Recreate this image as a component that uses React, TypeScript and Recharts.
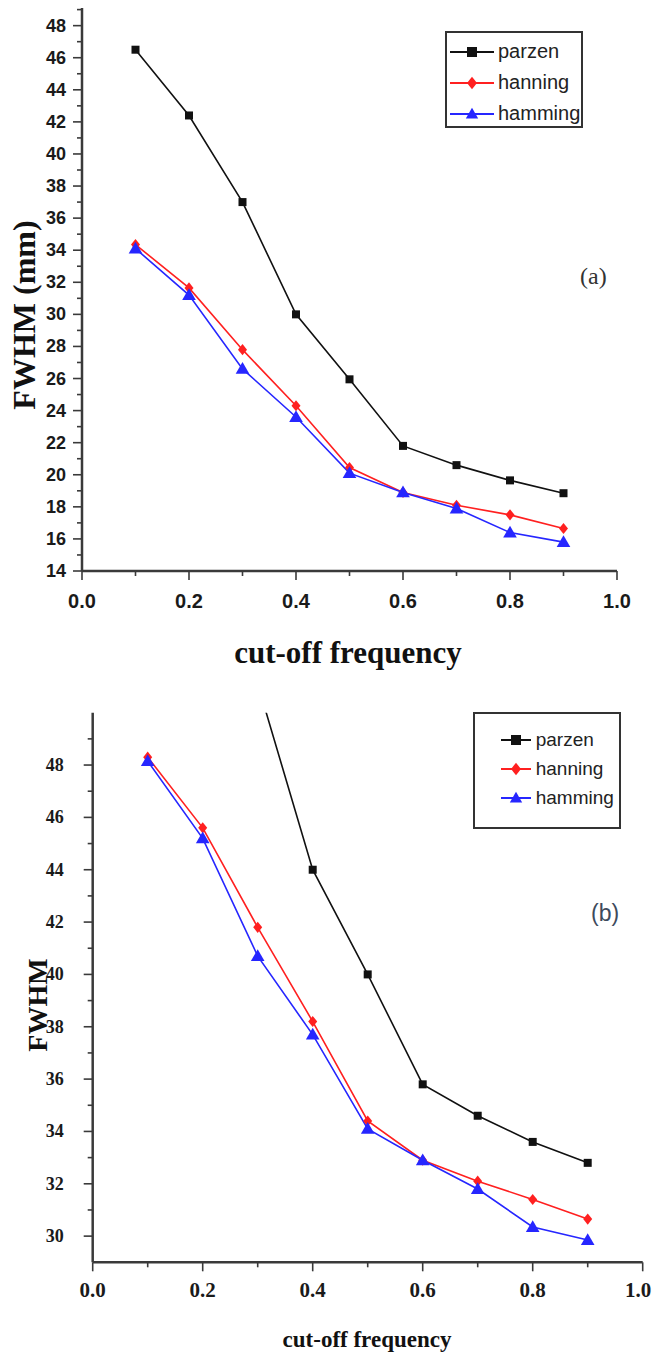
import { Label, Legend, Line, LineChart, XAxis, YAxis } from "recharts";

// cut-off frequency values shared by both panels
const freqs = [0.1, 0.2, 0.3, 0.4, 0.5, 0.6, 0.7, 0.8, 0.9];

// panel (a): FWHM (mm)
const parzenA = [46.5, 42.4, 37.0, 30.0, 25.95, 21.8, 20.6, 19.65, 18.85];
const hanningA = [34.35, 31.65, 27.8, 24.3, 20.45, 18.9, 18.1, 17.5, 16.65];
const hammingA = [34.1, 31.2, 26.6, 23.6, 20.1, 18.9, 17.9, 16.4, 15.8];

// panel (b): FWHM, parzen runs off the top for the low frequencies
const parzenB = [null, null, 51.1, 44.0, 40.0, 35.8, 34.6, 33.6, 32.8];
const hanningB = [48.3, 45.6, 41.8, 38.2, 34.4, 32.9, 32.1, 31.4, 30.65];
const hammingB = [48.15, 45.2, 40.7, 37.7, 34.1, 32.9, 31.8, 30.35, 29.85];

const xTicks = [0, 0.1, 0.2, 0.3, 0.4, 0.5, 0.6, 0.7, 0.8, 0.9, 1.0];
const xMajor = [0, 0.2, 0.4, 0.6, 0.8, 1.0];
const yTicksA = [14, 15, 16, 17, 18, 19, 20, 21, 22, 23, 24, 25, 26, 27, 28, 29, 30, 31, 32, 33, 34, 35, 36, 37, 38, 39, 40, 41, 42, 43, 44, 45, 46, 47, 48, 49];
const yMajorA = [14, 16, 18, 20, 22, 24, 26, 28, 30, 32, 34, 36, 38, 40, 42, 44, 46, 48];
const yTicksB = [30, 31, 32, 33, 34, 35, 36, 37, 38, 39, 40, 41, 42, 43, 44, 45, 46, 47, 48, 49];
const yMajorB = [30, 32, 34, 36, 38, 40, 42, 44, 46, 48];

const series = [
  { key: "parzen", name: "parzen", color: "#111111", shape: "square" },
  { key: "hanning", name: "hanning", color: "#ff2020", shape: "diamond" },
  { key: "hamming", name: "hamming", color: "#2626ff", shape: "triangle" },
];

const dataA = freqs.map((f, i) => ({ f, parzen: parzenA[i], hanning: hanningA[i], hamming: hammingA[i] }));
const dataB = freqs.map((f, i) => ({ f, parzen: parzenB[i], hanning: hanningB[i], hamming: hammingB[i] }));

const AXIS = "#3a3a3a";
const W = 654;

function Marker({ cx, cy, shape, color, s }: any) {
  if (shape === "square") {
    return <rect x={cx - s / 2} y={cy - s / 2} width={s} height={s} fill={color} />;
  }
  if (shape === "diamond") {
    return (
      <path
        d={`M${cx},${cy - s * 0.62}L${cx + s * 0.5},${cy}L${cx},${cy + s * 0.62}L${cx - s * 0.5},${cy}Z`}
        fill={color}
      />
    );
  }
  return (
    <path
      d={`M${cx},${cy - s * 0.62}L${cx + s * 0.62},${cy + s * 0.45}L${cx - s * 0.62},${cy + s * 0.45}Z`}
      fill={color}
    />
  );
}

const isIn = (list: number[], v: number) => list.some((m) => Math.abs(m - v) < 1e-6);

function yTick(majors: number[], font: any, gap: number) {
  return (props: any) => {
    const { x, y, payload } = props;
    const major = isIn(majors, payload.value);
    return (
      <g>
        <line x1={x - (major ? 9 : 5)} x2={x} y1={y} y2={y} stroke={AXIS} strokeWidth={1.6} />
        {major && (
          <text x={x - gap} y={y} textAnchor="end" dominantBaseline="central" fill="#1a1a1a" {...font}>
            {payload.value}
          </text>
        )}
      </g>
    );
  };
}

function xTick(majors: number[], font: any, gap: number) {
  return (props: any) => {
    const { x, y, payload } = props;
    const major = isIn(majors, payload.value);
    // keep the last label inside the picture
    const half = font.fontSize * 0.66;
    const tx = Math.min(x, W - 2 - half);
    return (
      <g>
        <line x1={x} x2={x} y1={y} y2={y + (major ? 9 : 5)} stroke={AXIS} strokeWidth={1.6} />
        {major && (
          <text x={tx} y={y + gap} textAnchor="middle" dominantBaseline="central" fill="#1a1a1a" {...font}>
            {payload.value.toFixed(1)}
          </text>
        )}
      </g>
    );
  };
}

function legendBox(cfg: { padTop: number; rowH: number; padLeft: number; symW: number; gap: number; fontSize: number }) {
  return () => (
    <div style={{ paddingTop: cfg.padTop }}>
      {series.map((s) => (
        <div key={s.key} style={{ display: "flex", alignItems: "center", height: cfg.rowH }}>
          <svg width={cfg.symW} height={16} style={{ marginLeft: cfg.padLeft, marginRight: cfg.gap }}>
            <line x1={0} x2={cfg.symW} y1={8} y2={8} stroke={s.color} strokeWidth={2} />
            <Marker cx={cfg.symW / 2} cy={8} shape={s.shape} color={s.color} s={10} />
          </svg>
          <span style={{ fontFamily: "'Liberation Sans', Arial, sans-serif", fontSize: cfg.fontSize, color: "#222" }}>
            {s.name}
          </span>
        </div>
      ))}
    </div>
  );
}

function renderLines(sizes: Record<string, number>) {
  return series.map((s) => (
    <Line
      key={s.key}
      type="linear"
      dataKey={s.key}
      name={s.name}
      stroke={s.color}
      strokeWidth={1.6}
      activeDot={false}
      isAnimationActive={false}
      dot={(p: any) => (
        <g key={`${s.key}-${p.index}`}>
          {p.cx != null && p.cy != null && p.value != null && (
            <Marker cx={p.cx} cy={p.cy} shape={s.shape} color={s.color} s={sizes[s.shape]} />
          )}
        </g>
      )}
    />
  ));
}

const sansBold = { fontFamily: "'Liberation Sans', Arial, sans-serif", fontWeight: "bold" };
const serifBold = { fontFamily: "'Liberation Serif', 'Times New Roman', serif", fontWeight: "bold" };

export default function App() {
  return (
    <div style={{ position: "absolute", left: 0, top: 0, width: W, height: 1354, background: "#fff" }}>
      {/* panel (a) */}
      <div style={{ position: "absolute", left: 0, top: 0, width: W, height: 690 }}>
        <LineChart width={W} height={690} data={dataA} margin={{ top: 8, right: 37, bottom: 79, left: 0 }}>
          <XAxis
            type="number"
            dataKey="f"
            domain={[0, 1]}
            ticks={xTicks}
            interval={0}
            height={40}
            tickSize={0}
            tickMargin={0}
            tickLine={false}
            axisLine={{ stroke: AXIS, strokeWidth: 2.5 }}
            tick={xTick(xMajor, { ...sansBold, fontSize: 20 }, 30)}
          >
            <Label
              content={() => (
                <text x={348} y={663} textAnchor="middle" fill="#111" {...serifBold} fontSize={31}>
                  cut-off frequency
                </text>
              )}
            />
          </XAxis>
          <YAxis
            type="number"
            domain={[14, 49.1]}
            ticks={yTicksA}
            interval={0}
            width={82}
            tickSize={0}
            tickMargin={0}
            tickLine={false}
            axisLine={{ stroke: AXIS, strokeWidth: 2.5 }}
            tick={yTick(yMajorA, { ...sansBold, fontSize: 18 }, 16)}
          >
            <Label
              content={() => (
                <text
                  x={24}
                  y={315}
                  transform="rotate(-90 24 315)"
                  textAnchor="middle"
                  dominantBaseline="central"
                  fill="#111"
                  {...serifBold}
                  fontSize={32}
                >
                  FWHM (mm)
                </text>
              )}
            />
          </YAxis>
          <Legend
            layout="horizontal"
            align="center"
            verticalAlign="middle"
            content={legendBox({ padTop: 3, rowH: 31, padLeft: 3, symW: 44, gap: 4, fontSize: 20 })}
            wrapperStyle={{
              left: 445,
              top: 31,
              width: 138,
              height: 97,
              border: "2px solid #333",
              boxSizing: "border-box",
              background: "#fff",
            }}
          />
          {renderLines({ square: 8, diamond: 9, triangle: 11 })}
        </LineChart>
        <div
          style={{
            position: "absolute",
            left: 580,
            top: 264,
            fontFamily: "'Liberation Serif', 'Times New Roman', serif",
            fontSize: 24,
            lineHeight: "24px",
            color: "#333",
          }}
        >
          (a)
        </div>
      </div>

      {/* panel (b) */}
      <div style={{ position: "absolute", left: 0, top: 690, width: W, height: 664 }}>
        <LineChart width={W} height={664} data={dataB} margin={{ top: 22.7, right: 11.3, bottom: 51.7, left: 0 }}>
          <XAxis
            type="number"
            dataKey="f"
            domain={[0, 1]}
            ticks={xTicks}
            interval={0}
            height={40}
            tickSize={0}
            tickMargin={0}
            tickLine={false}
            axisLine={{ stroke: AXIS, strokeWidth: 2.5 }}
            tick={xTick(xMajor, { ...serifBold, fontSize: 21 }, 28)}
          >
            <Label
              content={() => (
                <text x={367} y={657} textAnchor="middle" fill="#111" {...serifBold} fontSize={23}>
                  cut-off frequency
                </text>
              )}
            />
          </XAxis>
          <YAxis
            type="number"
            domain={[29, 50]}
            allowDataOverflow
            ticks={yTicksB}
            interval={0}
            width={92.7}
            tickSize={0}
            tickMargin={0}
            tickLine={false}
            axisLine={{ stroke: AXIS, strokeWidth: 2.5 }}
            tick={yTick(yMajorB, { ...serifBold, fontSize: 18 }, 29)}
          >
            <Label
              content={() => (
                <text
                  x={37}
                  y={315}
                  transform="rotate(-90 37 315)"
                  textAnchor="middle"
                  dominantBaseline="central"
                  fill="#111"
                  {...serifBold}
                  fontSize={28}
                >
                  FWHM
                </text>
              )}
            />
          </YAxis>
          <Legend
            layout="horizontal"
            align="center"
            verticalAlign="middle"
            content={legendBox({ padTop: 11, rowH: 29, padLeft: 26, symW: 30, gap: 5, fontSize: 19 })}
            wrapperStyle={{
              left: 472.7,
              top: 22.3,
              width: 148,
              height: 117,
              border: "2px solid #333",
              boxSizing: "border-box",
              background: "#fff",
            }}
          />
          {renderLines({ square: 8, diamond: 9, triangle: 11 })}
        </LineChart>
        <div
          style={{
            position: "absolute",
            left: 591,
            top: 212,
            fontFamily: "'Liberation Sans', Arial, sans-serif",
            fontSize: 23,
            lineHeight: "23px",
            color: "#3d4a5c",
          }}
        >
          (b)
        </div>
      </div>
    </div>
  );
}
